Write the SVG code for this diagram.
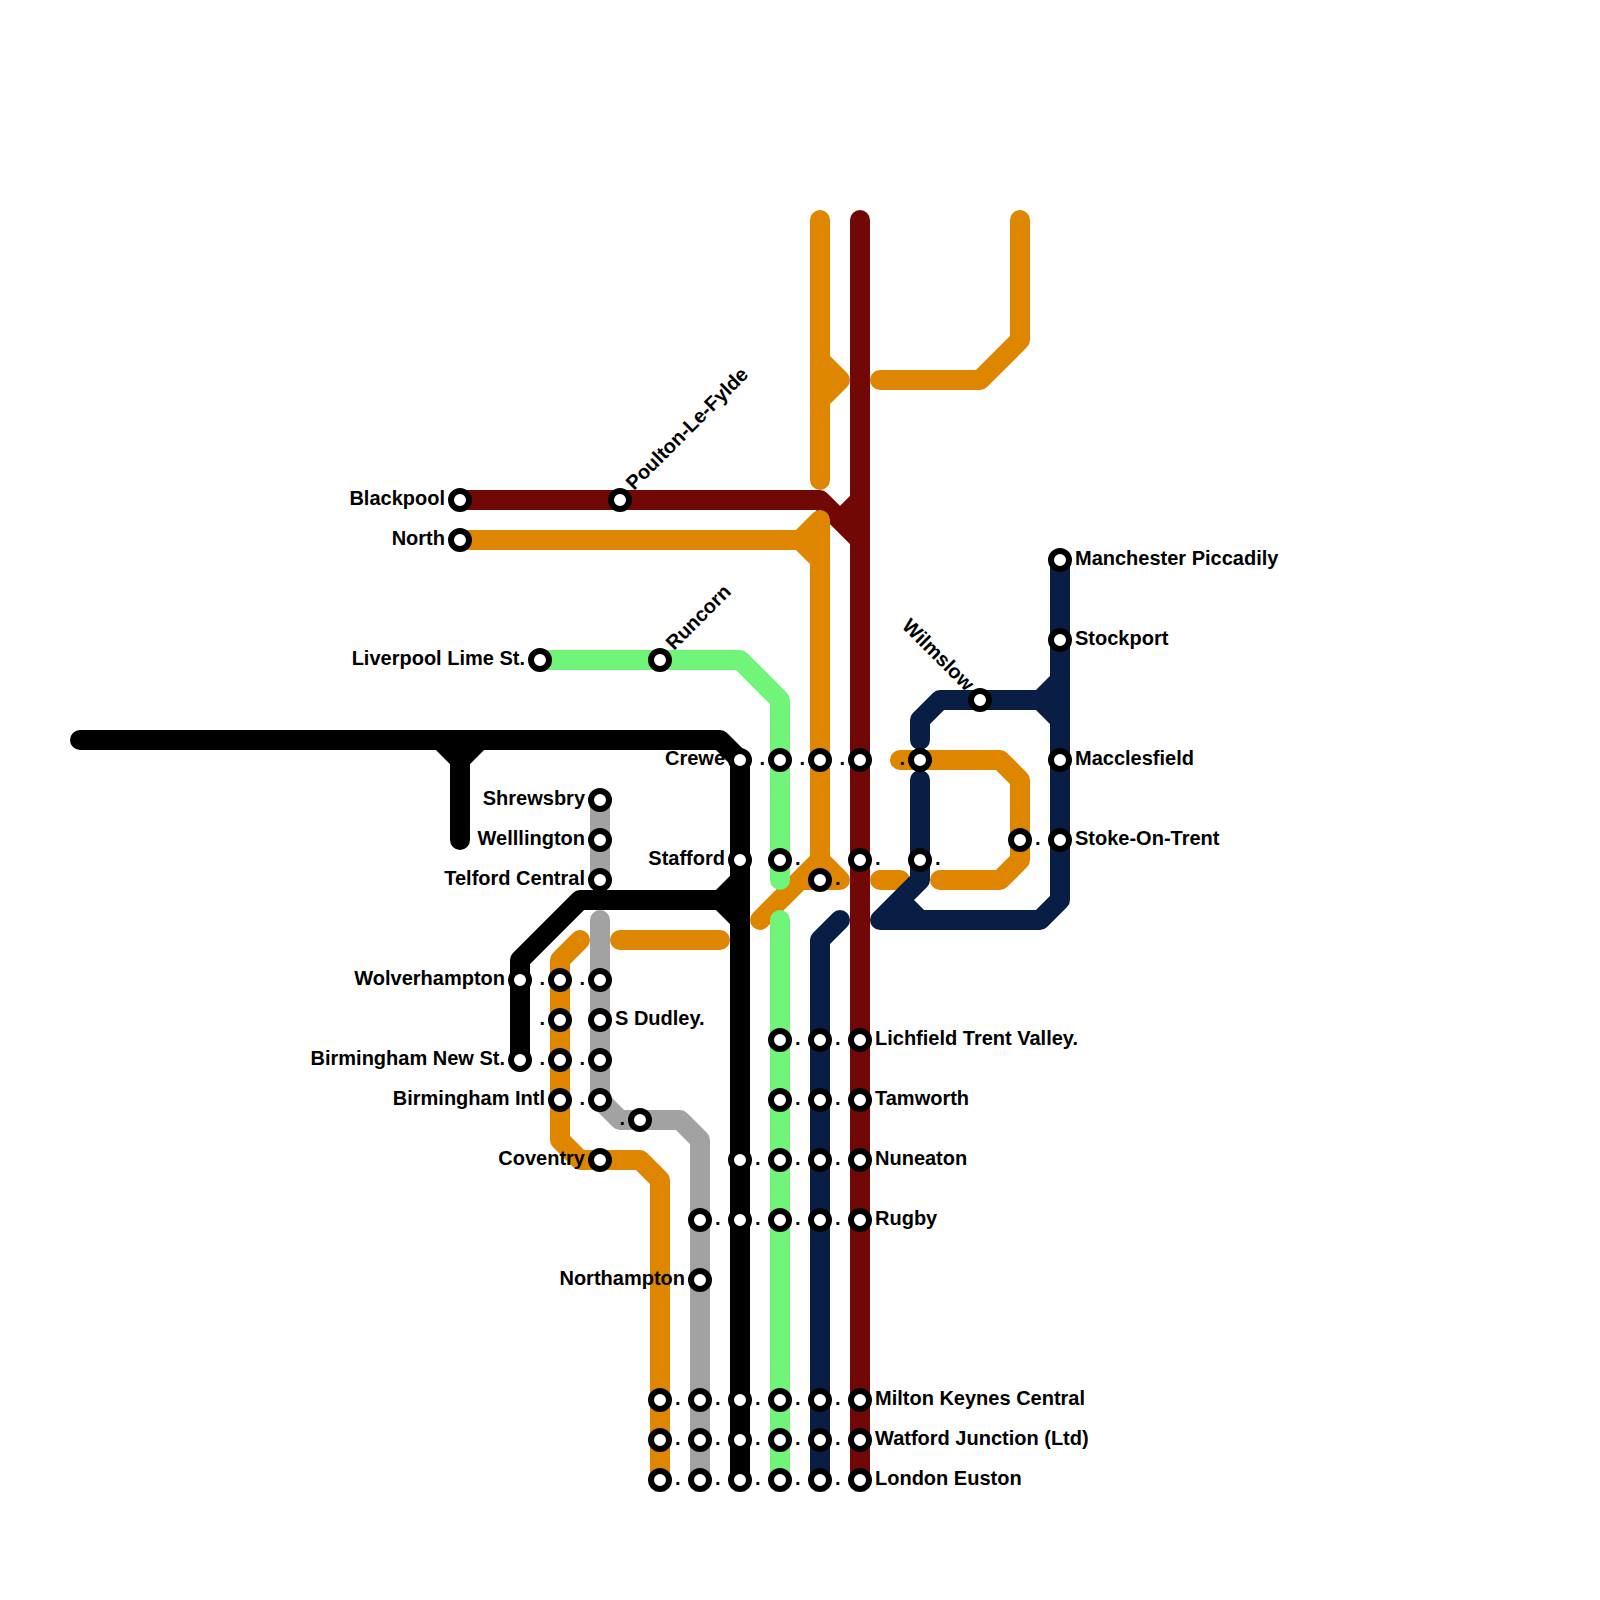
<svg xmlns="http://www.w3.org/2000/svg" width="1600" height="1600" viewBox="0 0 1600 1600">
<style>
.l{fill:none;stroke-width:20;stroke-linecap:round;stroke-linejoin:round}
.m{stroke:#720806}.o{stroke:#de8600}.g{stroke:#70f57a}.y{stroke:#a2a2a2}.k{stroke:#000}.n{stroke:#091e45}
.s{fill:#fff;stroke:#000;stroke-width:6}
text{font-family:"Liberation Sans",Arial,sans-serif;font-weight:700;font-size:20px;fill:#000}
.e{text-anchor:end}
</style>
<rect width="1600" height="1600" fill="#fff"/>
<g id="connectors">
<path class="l m" d="M860 220V1480M460 500H820L860 540M860 500L840 520"/>
<path class="l o" d="M820 220V480M820 360L840 380L820 400M880 380H980L1020 340V220"/>
<path class="l o" d="M460 540H800M820 520L800 540L820 560M820 520V860M760 920L820 860L840 880H800"/>
<path class="l o" d="M880 880H900M940 880H1000L1020 860V780L1000 760H900M620 940H720"/>
<path class="l o" d="M580 940L560 960V1140L580 1160H640L660 1180V1480"/>
<path class="l g" d="M540 660H740L780 700V880M780 920V1480"/>
<path class="l y" d="M600 800V880M600 920V1100L620 1120H680L700 1140V1480"/>
<path class="l k" d="M80 740H720L740 760V1480M440 740L460 760L480 740M460 760V840"/>
<path class="l k" d="M520 1060V960L580 900H720M740 880L720 900L740 920"/>
<path class="l n" d="M840 920L820 940V1480"/>
<path class="l n" d="M1060 560V900L1040 920H880L920 880V780M900 900L920 920"/>
<path class="l n" d="M920 740V720L940 700H1040M1060 680L1040 700L1060 720"/>
</g>
<defs><circle id="st" class="s" r="9"/></defs>
<g id="stations">
<g id="n-blackpool"><use href="#st" x="460" y="500"/><text class="e" x="445" y="505">Blackpool</text></g>
<g id="n-north"><use href="#st" x="460" y="540"/><text class="e" x="445" y="545">North</text></g>
<g id="n-poulton"><use href="#st" x="620" y="500"/><text transform="translate(634 491) rotate(-45)">Poulton-Le-Fylde</text></g>
<g id="n-liverpool"><use href="#st" x="540" y="660"/><text class="e" x="525" y="665">Liverpool Lime St.</text></g>
<g id="n-runcorn"><use href="#st" x="660" y="660"/><text transform="translate(674 651) rotate(-45)">Runcorn</text></g>
<g id="n-wilmslow"><use href="#st" x="980" y="700"/><text class="e" transform="translate(966 692) rotate(45)">Wilmslow</text></g>
<g id="n-manchester"><use href="#st" x="1060" y="560"/><text x="1075" y="565">Manchester Piccadily</text></g>
<g id="n-stockport"><use href="#st" x="1060" y="640"/><text x="1075" y="645">Stockport</text></g>
<g id="n-macclesfield"><use href="#st" x="1060" y="760"/><text x="1075" y="765">Macclesfield</text></g>
<g id="n-stoke"><use href="#st" x="1060" y="840"/><text x="1075" y="845">Stoke-On-Trent</text></g>
<g id="n-stoke2"><use href="#st" x="1020" y="840"/><text x="1035" y="845">.</text></g>
<g id="n-m760"><use href="#st" x="920" y="760"/><text class="e" x="905" y="765">.</text></g>
<g id="n-m860"><use href="#st" x="920" y="860"/><text x="935" y="865">.</text></g>
<g id="n-crewe"><use href="#st" x="740" y="760"/><text class="e" x="725" y="765">Crewe</text></g>
<g id="n-crewe-g"><use href="#st" x="780" y="760"/><text class="e" x="765" y="765">.</text></g>
<g id="n-crewe-o"><use href="#st" x="820" y="760"/><text class="e" x="805" y="765">.</text></g>
<g id="n-crewe-m"><use href="#st" x="860" y="760"/><text class="e" x="845" y="765">.</text></g>
<g id="n-stafford"><use href="#st" x="740" y="860"/><text class="e" x="725" y="865">Stafford</text></g>
<g id="n-stafford-g"><use href="#st" x="780" y="860"/><text x="795" y="865">.</text></g>
<g id="n-stafford-m"><use href="#st" x="860" y="860"/><text x="875" y="865">.</text></g>
<g id="n-stafford-o"><use href="#st" x="820" y="880"/><text x="835" y="885">.</text></g>
<g id="n-shrewsbury"><use href="#st" x="600" y="800"/><text class="e" x="585" y="805">Shrewsbry</text></g>
<g id="n-wellington"><use href="#st" x="600" y="840"/><text class="e" x="585" y="845">Welllington</text></g>
<g id="n-telford"><use href="#st" x="600" y="880"/><text class="e" x="585" y="885">Telford Central</text></g>
<g id="n-wolverhampton"><use href="#st" x="520" y="980"/><text class="e" x="505" y="985">Wolverhampton</text></g>
<g id="n-w-o"><use href="#st" x="560" y="980"/><text class="e" x="545" y="985">.</text></g>
<g id="n-w-y"><use href="#st" x="600" y="980"/><text class="e" x="585" y="985">.</text></g>
<g id="n-d-o"><use href="#st" x="560" y="1020"/><text class="e" x="545" y="1025">.</text></g>
<g id="n-dudley"><use href="#st" x="600" y="1020"/><text x="615" y="1025">S Dudley.</text></g>
<g id="n-bhm"><use href="#st" x="520" y="1060"/><text class="e" x="505" y="1065">Birmingham New St.</text></g>
<g id="n-b-o"><use href="#st" x="560" y="1060"/><text class="e" x="545" y="1065">.</text></g>
<g id="n-b-y"><use href="#st" x="600" y="1060"/><text class="e" x="585" y="1065">.</text></g>
<g id="n-bhi"><use href="#st" x="560" y="1100"/><text class="e" x="545" y="1105">Birmingham Intl</text></g>
<g id="n-bhi-y"><use href="#st" x="600" y="1100"/><text class="e" x="585" y="1105">.</text></g>
<g id="n-g1120"><use href="#st" x="640" y="1120"/><text class="e" x="625" y="1125">.</text></g>
<g id="n-coventry"><use href="#st" x="600" y="1160"/><text class="e" x="585" y="1165">Coventry</text></g>
<g id="n-northampton"><use href="#st" x="700" y="1280"/><text class="e" x="685" y="1285">Northampton</text></g>
<g id="n-l-g"><use href="#st" x="780" y="1040"/><text x="795" y="1045">.</text></g>
<g id="n-l-n"><use href="#st" x="820" y="1040"/><text x="835" y="1045">.</text></g>
<g id="n-lichfield"><use href="#st" x="860" y="1040"/><text x="875" y="1045">Lichfield Trent Valley.</text></g>
<g id="n-t-g"><use href="#st" x="780" y="1100"/><text x="795" y="1105">.</text></g>
<g id="n-t-n"><use href="#st" x="820" y="1100"/><text x="835" y="1105">.</text></g>
<g id="n-tamworth"><use href="#st" x="860" y="1100"/><text x="875" y="1105">Tamworth</text></g>
<g id="n-u-k"><use href="#st" x="740" y="1160"/><text x="755" y="1165">.</text></g>
<g id="n-u-g"><use href="#st" x="780" y="1160"/><text x="795" y="1165">.</text></g>
<g id="n-u-n"><use href="#st" x="820" y="1160"/><text x="835" y="1165">.</text></g>
<g id="n-nuneaton"><use href="#st" x="860" y="1160"/><text x="875" y="1165">Nuneaton</text></g>
<g id="n-r-y"><use href="#st" x="700" y="1220"/><text x="715" y="1225">.</text></g>
<g id="n-r-k"><use href="#st" x="740" y="1220"/><text x="755" y="1225">.</text></g>
<g id="n-r-g"><use href="#st" x="780" y="1220"/><text x="795" y="1225">.</text></g>
<g id="n-r-n"><use href="#st" x="820" y="1220"/><text x="835" y="1225">.</text></g>
<g id="n-rugby"><use href="#st" x="860" y="1220"/><text x="875" y="1225">Rugby</text></g>
<g id="n-mk-o"><use href="#st" x="660" y="1400"/><text x="675" y="1405">.</text></g>
<g id="n-mk-y"><use href="#st" x="700" y="1400"/><text x="715" y="1405">.</text></g>
<g id="n-mk-k"><use href="#st" x="740" y="1400"/><text x="755" y="1405">.</text></g>
<g id="n-mk-g"><use href="#st" x="780" y="1400"/><text x="795" y="1405">.</text></g>
<g id="n-mk-n"><use href="#st" x="820" y="1400"/><text x="835" y="1405">.</text></g>
<g id="n-mk"><use href="#st" x="860" y="1400"/><text x="875" y="1405">Milton Keynes Central</text></g>
<g id="n-wj-o"><use href="#st" x="660" y="1440"/><text x="675" y="1445">.</text></g>
<g id="n-wj-y"><use href="#st" x="700" y="1440"/><text x="715" y="1445">.</text></g>
<g id="n-wj-k"><use href="#st" x="740" y="1440"/><text x="755" y="1445">.</text></g>
<g id="n-wj-g"><use href="#st" x="780" y="1440"/><text x="795" y="1445">.</text></g>
<g id="n-wj-n"><use href="#st" x="820" y="1440"/><text x="835" y="1445">.</text></g>
<g id="n-wj"><use href="#st" x="860" y="1440"/><text x="875" y="1445">Watford Junction (Ltd)</text></g>
<g id="n-le-o"><use href="#st" x="660" y="1480"/><text x="675" y="1485">.</text></g>
<g id="n-le-y"><use href="#st" x="700" y="1480"/><text x="715" y="1485">.</text></g>
<g id="n-le-k"><use href="#st" x="740" y="1480"/><text x="755" y="1485">.</text></g>
<g id="n-le-g"><use href="#st" x="780" y="1480"/><text x="795" y="1485">.</text></g>
<g id="n-le-n"><use href="#st" x="820" y="1480"/><text x="835" y="1485">.</text></g>
<g id="n-euston"><use href="#st" x="860" y="1480"/><text x="875" y="1485">London Euston</text></g>
</g>
</svg>
